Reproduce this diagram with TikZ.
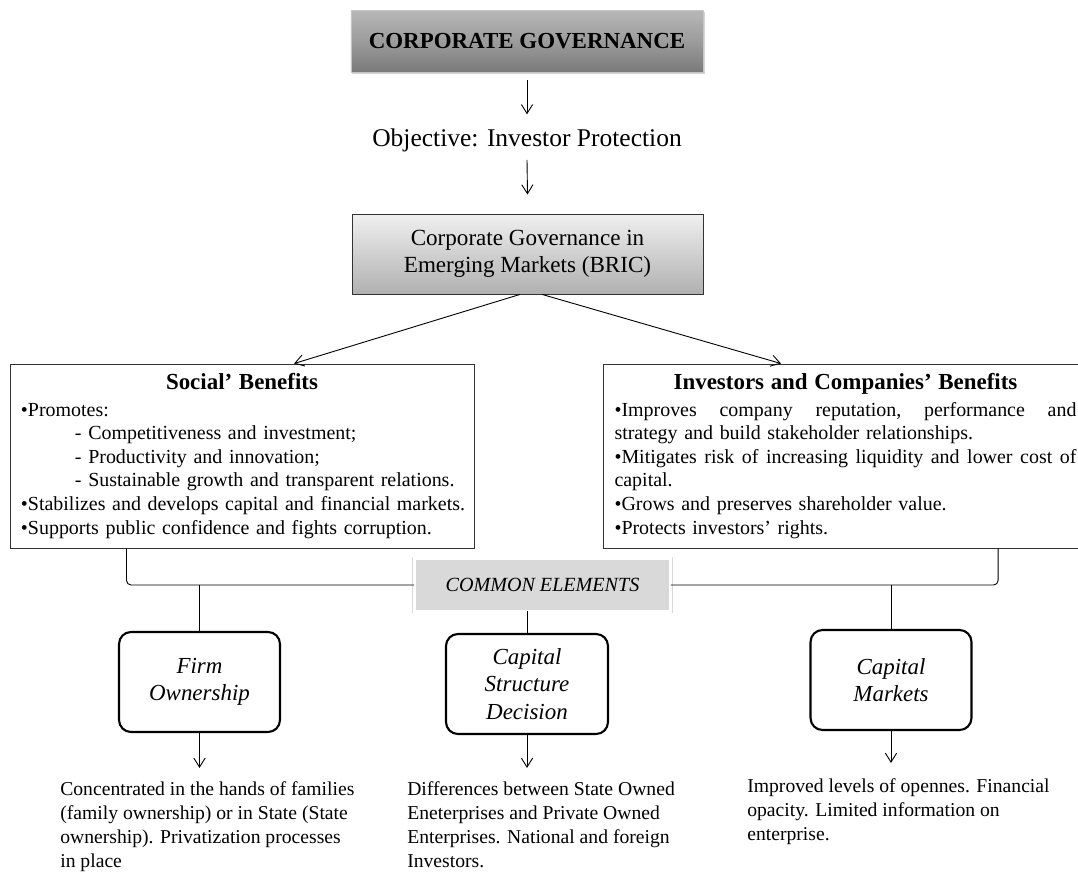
\documentclass[tikz,border=0pt]{standalone}
\usepackage{fontspec}
\setmainfont{Liberation Serif}
\usetikzlibrary{arrows.meta,shadows}
\definecolor{cgtop}{HTML}{B8B8B8}
\definecolor{cgmid}{HTML}{9C9C9C}
\definecolor{cgbot}{HTML}{7A7A7A}
\definecolor{brictop}{HTML}{F0F0F0}
\definecolor{bricbot}{HTML}{B0B0B0}
\definecolor{cefill}{HTML}{D9D9D9}
\hyphenpenalty=10000
\exhyphenpenalty=10000

\begin{document}
\begin{tikzpicture}[x=0.6667pt,y=-0.6667pt,
    >={Straight Barb[length=6pt,width=7.5pt]},
    conn/.style={line width=0.6pt},
    head/.style={draw=gray!45,line width=0.5pt,top color=cgtop,bottom color=cgbot,middle color=cgmid,
      minimum width=234.7pt,minimum height=41.3pt,font=\fontsize{15.3}{18}\selectfont\bfseries,
      drop shadow={opacity=0.35,shadow xshift=1pt,shadow yshift=-1.2pt}},
    bricbox/.style={draw=black!80,line width=0.6pt,top color=brictop,bottom color=bricbot,
      minimum width=234pt,minimum height=53.3pt,align=center,font=\fontsize{15.4}{18}\selectfont,
      drop shadow={opacity=0.25,shadow xshift=1pt,shadow yshift=-1pt}},
    benefit/.style={draw=black!80,line width=0.6pt,minimum height=122.7pt,inner xsep=7.3pt,
      align=left,font=\fontsize{13.3}{15.7}\selectfont},
    common/.style={fill=cefill,draw=gray!30,double=white,double distance=2pt,line width=0.5pt,
      minimum width=170.7pt,minimum height=34.7pt,font=\fontsize{13.4}{16}\selectfont\itshape,
      drop shadow={opacity=0.25,shadow xshift=0.8pt,shadow yshift=-0.8pt}},
    elem/.style={draw=black,line width=1.4pt,rounded corners=8pt,minimum width=107.3pt,
      minimum height=66.7pt,align=center,font=\fontsize{15.3}{18.3}\selectfont\itshape},
    note/.style={inner sep=0pt,anchor=north west,align=left,font=\fontsize{13.1}{16}\selectfont}]
  \useasboundingbox (0,0) rectangle (1078,872);

  \node[head] (CG) at (527,41) {CORPORATE GOVERNANCE};
  \node[inner sep=0pt,font=\fontsize{17}{20}\selectfont] (OBJ) at (527,140) {Objective: Investor Protection};
  \node[bricbox] (BRIC) at (527.5,254) {Corporate Governance in\\Emerging Markets (BRIC)};

  \node[benefit,text width=294.7pt] (SB) at (242,456) {%
    \makebox[\hsize]{\fontsize{15.3}{18}\selectfont\bfseries Social' Benefits}\\[2pt]
    •Promotes:\\
    \hspace*{36pt}- Competitiveness and investment;\\
    \hspace*{36pt}- Productivity and innovation;\\
    \hspace*{36pt}- Sustainable growth and transparent relations.\\
    \mbox{•Stabilizes and develops capital and financial markets.}\\
    •Supports public confidence and fights corruption.};
  \node[benefit,text width=308pt] (ICB) at (845.5,456) {%
    \makebox[\hsize]{\fontsize{15.3}{18}\selectfont\bfseries Investors and Companies' Benefits}\\[2pt]
    \makebox[\hsize][s]{•Improves\hfill company\hfill reputation,\hfill performance\hfill and}\\
    strategy and build stakeholder relationships.\\
    \makebox[\hsize][s]{•Mitigates\hfill risk\hfill of\hfill increasing\hfill liquidity\hfill and\hfill lower\hfill cost\hfill of}\\
    capital.\\
    •Grows and preserves shareholder value.\\
    •Protects investors' rights.};

  \node[common] (CE) at (542.5,585) {COMMON ELEMENTS};

  \node[elem] (FO) at (199.5,682) {Firm\\Ownership};
  \node[elem,minimum width=108pt] (CSD) at (527,684) {Capital\\Structure\\Decision};
  \node[elem] (CM) at (891,680) {Capital\\Markets};

  \node[note] (T1) at (60,781) {Concentrated in the hands of families\\(family ownership) or in State (State\\ownership). Privatization processes\\in place};
  \node[note] (T2) at (407,781) {Differences between State Owned\\Eneterprises and Private Owned\\Enterprises. National and foreign\\Investors.};
  \node[note] (T3) at (747,778) {Improved levels of opennes. Financial\\opacity. Limited information on\\enterprise.};

  \draw[conn,->] ([yshift=-5.3pt]CG.south) -- ([yshift=9.2pt]OBJ.north);
  \draw[conn,->] ([yshift=-5.3pt]OBJ.south) -- ([yshift=12.7pt]BRIC.north);
  \draw[conn,->] ([xshift=-5pt]BRIC.south) -- ([xshift=34.7pt]SB.north);
  \draw[conn,->] ([xshift=9.7pt]BRIC.south) -- ([xshift=-43pt]ICB.north);

  \coordinate (SL) at ([xshift=-77pt]SB.south);
  \coordinate (IR) at ([xshift=101.7pt]ICB.south);
  \draw[conn,rounded corners=3pt] (SL) -- (SL |- CE.west) -- (CE.west);
  \draw[conn,rounded corners=3pt] (CE.east) -- (IR |- CE.east) -- (IR);
  \draw[conn] (FO.north) -- (FO.north |- CE.west);
  \draw[conn] (CSD.north) -- (CSD.north |- CE.south);
  \draw[conn] (CM.north) -- (CM.north |- CE.east);

  \draw[conn,->,shorten >=8.7pt] (FO.south) -- (T1.north -| FO.south);
  \draw[conn,->,shorten >=8.7pt] (CSD.south) -- (T2.north -| CSD.south);
  \draw[conn,->,shorten >=10pt] (CM.south) -- (T3.north -| CM.south);
\end{tikzpicture}
\end{document}
